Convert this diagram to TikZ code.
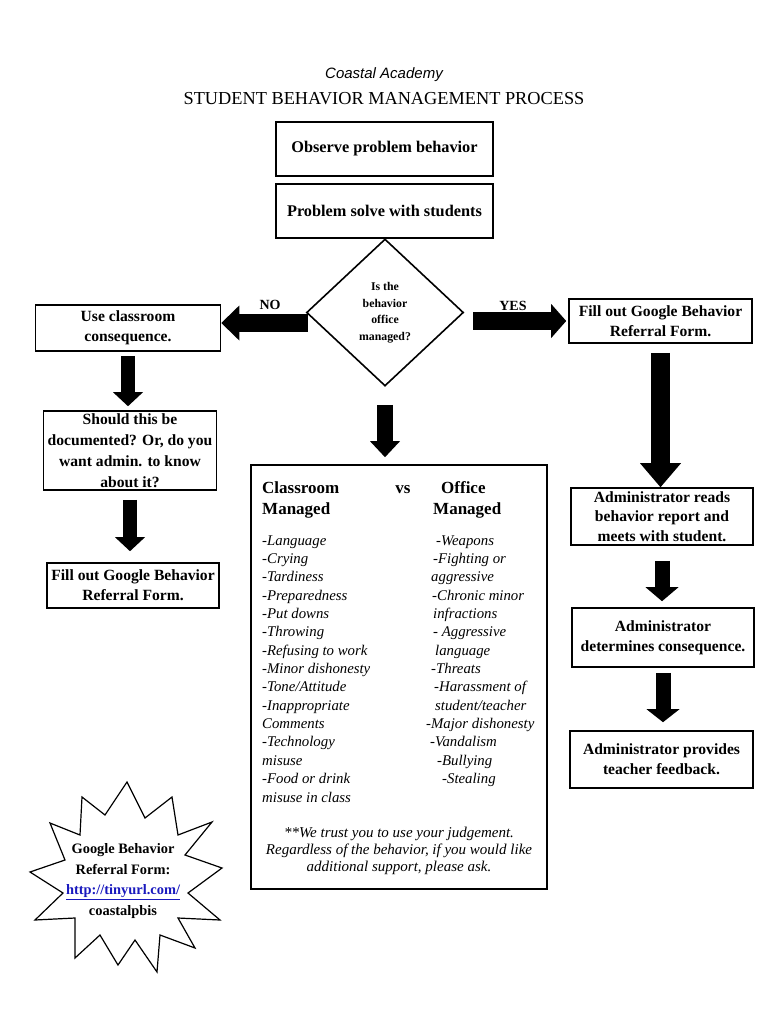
\documentclass[tikz,border=0pt]{standalone}
\usepackage{fontspec}
\setmainfont{Liberation Serif}
\newfontfamily\arialfont{Liberation Sans}
\usetikzlibrary{shapes.geometric,arrows.meta}
\definecolor{linkblue}{RGB}{25,25,190}

\tikzset{
  procbox/.style={draw, line width=1.6pt, align=center, inner xsep=2pt, inner ysep=0pt,
    font=\bfseries\fontsize{15.6}{20}\selectfont},
  blockarrow/.style n args={3}{line width=#1, -{Triangle[width=#2, length=#3, line width=0pt]}},
  listtext/.style={anchor=base west, inner sep=0pt, font=\itshape\fontsize{14.8}{17}\selectfont},
  headtext/.style={anchor=base west, inner sep=0pt, font=\bfseries\fontsize{17}{19}\selectfont},
  answer/.style={inner sep=0pt, font=\bfseries\fontsize{14}{16}\selectfont},
}

\begin{document}
\begin{tikzpicture}[x=1pt, y=-1pt]
  \useasboundingbox (0,0) rectangle (768,1024);
  \node[font=\arialfont\itshape\fontsize{15}{17}\selectfont] (school) at (384,75) {Coastal Academy};
  \node[font=\fontsize{18.3}{20}\selectfont] (title) at (384,99) {STUDENT BEHAVIOR MANAGEMENT PROCESS};

  % main column
  \node[procbox, minimum width=217pt, minimum height=54pt, font=\bfseries\fontsize{16.3}{20}\selectfont] (observe) at (384.5,149) {Observe problem behavior};
  \node[procbox, minimum width=217pt, minimum height=54pt, font=\bfseries\fontsize{16.3}{20}\selectfont] (solve) at (384.5,211) {Problem solve with students};
  \node[draw, diamond, line width=1.6pt, minimum width=157pt, minimum height=147pt, inner sep=0pt,
    align=center, font=\bfseries\fontsize{11.8}{16.5}\selectfont] (office) at (385,312.5) {Is the\\behavior\\office\\managed?};

  % classroom side
  \node[procbox, minimum width=185pt, minimum height=46pt] (useCR) at (128,328) {Use classroom\\consequence.};
  \node[procbox, minimum width=173pt, minimum height=79pt, font=\bfseries\fontsize{15.6}{21}\selectfont] (should) at (130,450.5) {Should this be\\documented? Or, do you\\want admin. to know\\about it?};
  \node[procbox, minimum width=172pt, minimum height=45pt] (fillL) at (133,585.5) {Fill out Google Behavior\\Referral Form.};

  % office side
  \node[procbox, minimum width=183pt, minimum height=44pt] (fillR) at (660.5,321) {Fill out Google Behavior\\Referral Form.};
  \node[procbox, minimum width=182pt, minimum height=57pt, font=\bfseries\fontsize{15.6}{19.5}\selectfont] (adread) at (662,516.5) {Administrator reads\\behavior report and\\meets with student.};
  \node[procbox, minimum width=182pt, minimum height=59pt] (addet) at (663,637.5) {Administrator\\determines consequence.};
  \node[procbox, minimum width=183pt, minimum height=57pt] (adprov) at (661.5,759.5) {Administrator provides\\teacher feedback.};

  % list box
  \node[draw, line width=1.6pt, minimum width=296pt, minimum height=424pt, inner sep=0pt] (lists) at (399,677) {};
  \node[headtext] (hcls) at (262,493) {Classroom};
  \node[headtext] at (262,514) {Managed};
  \node[headtext, anchor=base] (hvs) at (403,493) {vs};
  \node[headtext] (hoff) at (441,493) {Office};
  \node[headtext] at (433,514) {Managed};
  \foreach \t [count=\i from 0] in {-Language, -Crying, -Tardiness, -Preparedness, -Put downs, -Throwing,
      -Refusing to work, -Minor dishonesty, {-Tone/Attitude}, -Inappropriate, Comments, -Technology,
      misuse, -Food or drink, misuse in class}{
    \node[listtext] (cl\i) at (262, 545+18.36*\i) {\t};
  }
  \foreach \x/\t [count=\i from 0] in {436/-Weapons, 433/-Fighting or, 431/aggressive, 432/-Chronic minor,
      433/infractions, 433/- Aggressive, 435/language, 431/-Threats, 434/-Harassment of,
      435/{student/teacher}, 426/-Major dishonesty, 430/-Vandalism, 437/-Bullying, 442/-Stealing}{
    \node[listtext] (of\i) at (\x, 545+18.36*\i) {\t};
  }
  \node[align=center, inner sep=0pt, font=\itshape\fontsize{15}{17}\selectfont] (trust) at (399,851)
    {**We trust you to use your judgement.\\Regardless of the behavior, if you would like\\additional support, please ask.};

  % answers
  \node[answer] (no) at (270,305) {NO};
  \node[answer] (yes) at (513,306) {YES};

  % block arrows
  \draw[blockarrow={18pt}{35pt}{18pt}] ([xshift=2pt,yshift=-10.5pt]office.west) -- ([yshift=-10.5pt]office.west -| useCR.east);
  \draw[blockarrow={18pt}{34pt}{15pt}] ([xshift=9pt]office.east |- fillR.west) -- ([xshift=-2pt]fillR.west);
  \draw[blockarrow={16pt}{30pt}{16pt}] ([yshift=-18pt]office.south) -- ([yshift=7pt]office.south |- lists.north);
  \draw[blockarrow={14pt}{30pt}{14pt}] ([yshift=-4pt]useCR.south) -- ([yshift=4pt]useCR.south |- should.north);
  \draw[blockarrow={14pt}{30pt}{14pt}] ([yshift=-9pt]should.south) -- ([yshift=11pt]should.south |- fillL.north);
  \draw[blockarrow={19pt}{41pt}{24pt}] ([yshift=-9pt]fillR.south) -- (fillR.south |- adread.north);
  \draw[blockarrow={15pt}{33pt}{14pt}] ([yshift=-15pt]adread.south) -- ([yshift=6pt]adread.south |- addet.north);
  \draw[blockarrow={15pt}{33pt}{13pt}] ([yshift=-5pt]addet.south) -- ([yshift=8pt]addet.south |- adprov.north);

  % starburst
  \draw[line width=1.2pt, line join=miter] (127,782) -- (145,818) -- (172,797) -- (178,835) -- (212,822)
    -- (185,855) -- (222,868) -- (188,893) -- (220,920) -- (178,918) -- (195,948) -- (160,935)
    -- (157,972) -- (135,940) -- (118,965) -- (100,935) -- (75,958) -- (75,918) -- (35,920)
    -- (63,893) -- (30,872) -- (65,860) -- (50,823) -- (80,835) -- (82,797) -- (105,815) -- cycle;
  \node[align=center, inner sep=0pt, font=\bfseries\fontsize{14.4}{20.7}\selectfont] (link) at (123,881)
    {Google Behavior\\Referral Form:\\\textcolor{linkblue}{\underline{http://tinyurl.com/}}\\coastalpbis};
\end{tikzpicture}
\end{document}
